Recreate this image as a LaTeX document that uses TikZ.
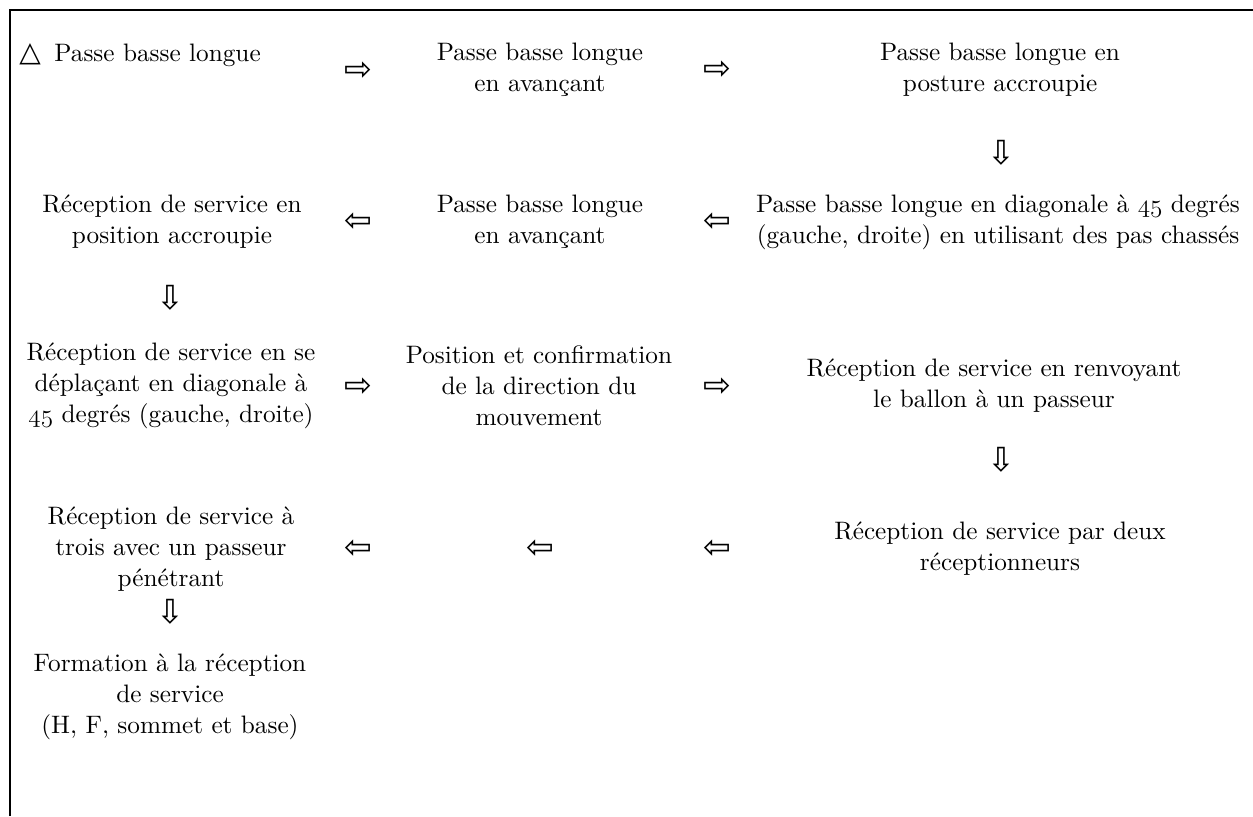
\RequirePackage{fix-cm}
\documentclass[tikz,border=0pt]{standalone}
\usepackage{fontspec}
\usepackage{tikz}
\setmainfont{lmroman10-regular.otf}
\newfontfamily\symfont{DejaVu Sans}
% old-style figures taken from the math italic font
\newcommand{\osnum}[1]{{\usefont{OML}{cmm}{m}{it}#1}}

\begin{document}
\begin{tikzpicture}[
  x=0.02646cm, y=-0.02646cm,
  stepnode/.style={align=center, inner sep=0pt, font=\fontsize{19}{23.5}\selectfont},
  arrglyph/.style={inner sep=0pt, font=\symfont\fontsize{25}{25}\selectfont},
]
\useasboundingbox (0,0) rectangle (1253,816);

% frame
\draw[line width=2pt] (10,816) -- (10,10) -- (1253,10);

% Row 1
\node[stepnode, anchor=base west] (S1) at (19, 61) {{\symfont\fontsize{21}{21}\selectfont\char"25B3}\hspace{4pt} Passe basse longue};
\node[stepnode] (S2) at (540, 70) {Passe basse longue\\en avançant};
\node[stepnode] (S3) at (1000, 70) {Passe basse longue en\\posture accroupie};

% Row 2
\node[stepnode] (S4) at (998, 222) {Passe basse longue en diagonale à \osnum{45} degrés\\(gauche, droite) en utilisant des pas chassés};
\node[stepnode] (S5) at (540, 222) {Passe basse longue\\en avançant};
\node[stepnode] (S6) at (172, 222) {Réception de service en\\position accroupie};

% Row 3
\node[stepnode] (S7) at (171, 386) {Réception de service en se\\déplaçant en diagonale à\\\osnum{45} degrés (gauche, droite)};
\node[stepnode] (S8) at (539, 386) {Position et confirmation\\de la direction du\\mouvement};
\node[stepnode] (S9) at (994, 386) {Réception de service en renvoyant\\le ballon à un passeur};

% Row 4
\node[stepnode] (S10) at (1000, 549) {Réception de service par deux\\réceptionneurs};
\node[stepnode] (S11) at (171, 549) {Réception de service à\\trois avec un passeur\\pénétrant};

% Row 5
\node[stepnode] (S12) at (170, 697) {Formation à la réception\\de service\\(H, F, sommet et base)};

% --- arrows ---
\node[arrglyph] (A1) at (358, 71) {⇨};
\node[arrglyph] (A2) at (717, 70) {⇨};
\node[arrglyph] (A3) at (1001, 153) {⇩};
\node[arrglyph] (A4) at (717, 222) {⇦};
\node[arrglyph] (A5) at (358, 222) {⇦};
\node[arrglyph] (A6) at (170, 298) {⇩};
\node[arrglyph] (A7) at (358, 387) {⇨};
\node[arrglyph] (A8) at (717, 387) {⇨};
\node[arrglyph] (A9) at (1001, 460) {⇩};
\node[arrglyph] (A10) at (717, 549) {⇦};
\node[arrglyph] (A11) at (540, 549) {⇦};
\node[arrglyph] (A12) at (358, 549) {⇦};
\node[arrglyph] (A13) at (170, 612) {⇩};

\end{tikzpicture}
\end{document}
